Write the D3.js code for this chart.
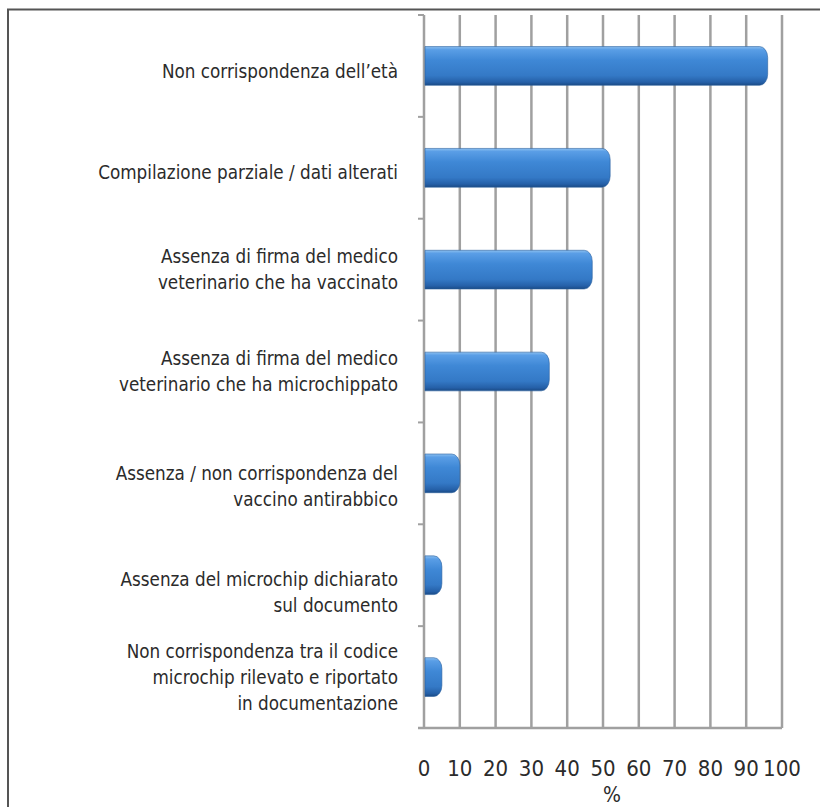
<!DOCTYPE html>
<html>
<head>
<meta charset="utf-8">
<script src="https://cdn.jsdelivr.net/npm/d3@7"></script>
<style>
  body { margin: 0; background: #fff; }
  svg { display: block; }
</style>
</head>
<body>
<svg id="chart" width="820" height="807"></svg>
<script>
// categories, top to bottom (each entry is the lines of the label)
var categories = [
    ['Non corrispondenza dell\u2019et\u00e0'],
    ['Compilazione parziale / dati alterati'],
    ['Assenza di firma del medico', 'veterinario che ha vaccinato'],
    ['Assenza di firma del medico', 'veterinario che ha microchippato'],
    ['Assenza / non corrispondenza del', 'vaccino antirabbico'],
    ['Assenza del microchip dichiarato', 'sul documento'],
    ['Non corrispondenza tra il codice', 'microchip rilevato e riportato', 'in documentazione']
];
var values = [96, 52, 47, 35, 10, 5, 5];
var xTicks = [0, 10, 20, 30, 40, 50, 60, 70, 80, 90, 100];
var xTitle = '%';

var svg = d3.select('#chart');
var font = '"DejaVu Sans Condensed", "Liberation Sans Narrow", sans-serif';
var gridColor = '#a0a0a0';

var x = d3.scaleLinear().domain([0, 100]).range([424, 782]);
var y = d3.scaleBand()
    .domain(d3.range(categories.length))
    .range([15, 728])
    .paddingInner(0.62)
    .paddingOuter(0.31);

// outer frame (only top and left edges are visible)
svg.append('path')
    .attr('d', 'M8,807V9.5H820')
    .attr('fill', 'none')
    .attr('stroke', '#555')
    .attr('stroke-width', 2);

// bar gradient
var defs = svg.append('defs');
var grad = defs.append('linearGradient')
    .attr('id', 'barGrad')
    .attr('x1', 0).attr('y1', 0).attr('x2', 0).attr('y2', 1);
[
    [0, '#8cc0f0'], [0.08, '#5a9ee6'], [0.35, '#3f88d6'],
    [0.75, '#3479c6'], [0.92, '#2560a8'], [1, '#1a4a85']
].forEach(s => grad.append('stop').attr('offset', s[0]).attr('stop-color', s[1]));

// vertical gridlines
svg.append('g')
    .selectAll('line')
    .data(xTicks.slice(1))
    .enter().append('line')
    .attr('x1', d => x(d)).attr('x2', d => x(d))
    .attr('y1', y.range()[0]).attr('y2', y.range()[1])
    .attr('stroke', gridColor)
    .attr('stroke-width', 2.5);

// category axis with ticks at band boundaries
var step = y.step();
var yTop = y.range()[0];
svg.append('line')
    .attr('x1', x(0)).attr('x2', x(0))
    .attr('y1', yTop).attr('y2', y.range()[1])
    .attr('stroke', gridColor).attr('stroke-width', 2.5);
svg.append('g')
    .selectAll('line')
    .data(d3.range(categories.length + 1))
    .enter().append('line')
    .attr('x1', x(0) - 6).attr('x2', x(0))
    .attr('y1', i => yTop + i * step).attr('y2', i => yTop + i * step)
    .attr('stroke', gridColor).attr('stroke-width', 2);

// value axis line
svg.append('line')
    .attr('x1', x(0) - 6).attr('x2', x(100))
    .attr('y1', y.range()[1]).attr('y2', y.range()[1])
    .attr('stroke', gridColor).attr('stroke-width', 2.5);

// bars (flat at the axis, rounded at the end like a cylinder)
function barPath(v, i) {
    var x0 = x(0) + 1, x1 = x(v), y0 = y(i), h = y.bandwidth();
    var r = Math.min(8, (x1 - x0) / 2), ry = Math.min(11, h / 2);
    return 'M' + x0 + ',' + y0 +
        'H' + (x1 - r) +
        'A' + r + ',' + ry + ' 0 0 1 ' + x1 + ',' + (y0 + ry) +
        'V' + (y0 + h - ry) +
        'A' + r + ',' + ry + ' 0 0 1 ' + (x1 - r) + ',' + (y0 + h) +
        'H' + x0 + 'Z';
}
svg.append('g')
    .selectAll('path')
    .data(values)
    .enter().append('path')
    .attr('d', (d, i) => barPath(d, i))
    .attr('fill', 'url(#barGrad)')
    .attr('stroke', '#2a5f9e')
    .attr('stroke-width', 0.6);

// category labels
var lineH = 26;
var labelNudge = [5, 4, -1, -1, 13, 17, 0];
svg.append('g')
    .attr('font-family', font)
    .attr('font-size', 18.7)
    .attr('fill', '#2b2b2b')
    .attr('text-anchor', 'end')
    .selectAll('text')
    .data(categories)
    .enter().append('text')
    .each(function (lines, i) {
        var cy = y(i) + y.bandwidth() / 2 + labelNudge[i];
        var first = cy - (lines.length - 1) * lineH / 2 + 7;
        d3.select(this).selectAll('tspan')
            .data(lines)
            .enter().append('tspan')
            .attr('x', 398)
            .attr('y', (l, j) => first + j * lineH)
            .text(l => l);
    });

// value tick labels
svg.append('g')
    .attr('font-family', font)
    .attr('font-size', 22)
    .attr('fill', '#2b2b2b')
    .attr('text-anchor', 'middle')
    .selectAll('text')
    .data(xTicks)
    .enter().append('text')
    .attr('x', d => x(d))
    .attr('y', 776)
    .text(d => d);

svg.append('text')
    .attr('font-family', font)
    .attr('font-size', 21)
    .attr('fill', '#2b2b2b')
    .attr('text-anchor', 'middle')
    .attr('x', (x(0) + x(100)) / 2 + 9)
    .attr('y', 802)
    .text(xTitle);
</script>
</body>
</html>
